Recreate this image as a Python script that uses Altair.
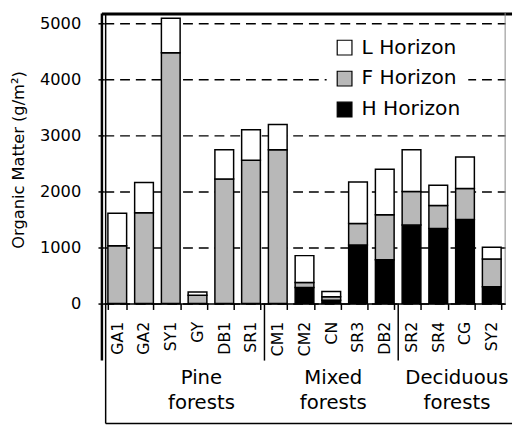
import altair as alt
import pandas as pd

categories = ["GA1", "GA2", "SY1", "GY", "DB1", "SR1", "CM1", "CM2", "CN",
              "SR3", "DB2", "SR2", "SR4", "CG", "SY2"]
h_values = [0, 0, 0, 0, 0, 0, 0, 285, 60, 1045, 780, 1400, 1340, 1500, 300]
f_values = [1030, 1620, 4475, 150, 2220, 2555, 2745, 90, 60, 382, 805, 600, 410, 553, 494]
l_values = [580, 540, 615, 57, 525, 545, 450, 480, 95, 743, 809, 745, 362, 562, 211]
horizons = ["L Horizon", "F Horizon", "H Horizon"]
horizon_colors = ["white", "#b8b8b8", "black"]
y_ticks = [0, 1000, 2000, 3000, 4000, 5000]
group_labels = ["Pine\nforests", "Mixed\nforests", "Deciduous\nforests"]
group_anchor = ["GY", "CN", "SR4"]
group_starts = ["CM1", "SR2"]

FONT = "DejaVu Sans"
W, H = 408, 295

rows = []
for i, c in enumerate(categories):
    for hz, vals, o in [("H Horizon", h_values, 0), ("F Horizon", f_values, 1), ("L Horizon", l_values, 2)]:
        rows.append({"site": c, "horizon": hz, "value": vals[i], "ord": o})
df = pd.DataFrame(rows)

xscale = alt.Scale(domain=categories, paddingInner=0.3, paddingOuter=0.15)
yscale = alt.Scale(domain=[0, 5175], nice=False)

bars = alt.Chart(df).mark_bar(stroke="black", strokeWidth=1.5).encode(
    x=alt.X("site:N", scale=xscale, sort=categories,
            axis=alt.Axis(title=None, labelAngle=-90, labelFontSize=16, labelPadding=12,
                          labelColor="black", tickBand="extent", tickSize=6, tickWidth=1.5,
                          tickColor="black", domainColor="black", domainWidth=1.5)),
    y=alt.Y("value:Q", scale=yscale, stack="zero",
            axis=alt.Axis(values=y_ticks, format="d", grid=True, gridDash=[10, 6],
                          gridColor="black", gridWidth=1.5, domain=False, tickColor="black",
                          tickSize=6, tickWidth=1.5, labelFontSize=16.5, labelColor="black",
                          labelPadding=17.5, title="Organic Matter (g/m²)",
                          titleFontSize=16.5, titleFontWeight="normal", titleColor="black",
                          titleX=-86.5, titleY=148.5, titleAngle=-90, titleBaseline="middle")),
    fill=alt.Color("horizon:N", scale=alt.Scale(domain=horizons, range=horizon_colors),
                   legend=alt.Legend(title=None, orient="none", legendX=226.5, legendY=16.5,
                                     fillColor="white", padding=8, symbolType="square",
                                     symbolSize=225, symbolStrokeColor="black",
                                     symbolStrokeWidth=1.2, symbolOpacity=1,
                                     labelFontSize=20.5, labelOffset=7, rowPadding=10.5,
                                     labelColor="black")),
    order=alt.Order("ord:Q", sort="ascending"),
)

layers = [bars]

# group separators
sep = alt.Chart(pd.DataFrame({"site": group_starts})).mark_rule(
    color="black", strokeWidth=1.5, xOffset=-4).encode(
    x=alt.X("site:N", scale=xscale, bandPosition=0),
    y=alt.value(H), y2=alt.value(353))
layers.append(sep)

# group labels
dxs = [4, 2, 19]
for lab, anc, dx in zip(group_labels, group_anchor, dxs):
    t = alt.Chart(pd.DataFrame({"site": [anc], "label": [lab]})).mark_text(
        lineBreak="\n", lineHeight=25, baseline="alphabetic", align="center",
        fontSize=20, font=FONT, color="black", dx=dx).encode(
        x=alt.X("site:N", scale=xscale), y=alt.value(377), text="label:N")
    layers.append(t)

one = alt.Data(values=[{}])
def rule(x, y, x2=None, y2=None, w=1.5, color="black"):
    enc = {"x": alt.value(x), "y": alt.value(y)}
    if x2 is not None:
        enc["x2"] = alt.value(x2)
    if y2 is not None:
        enc["y2"] = alt.value(y2)
    return alt.Chart(one).mark_rule(color=color, strokeWidth=w).encode(**enc)

layers += [
    rule(-2, 0.5, x2=415, w=3),
    rule(-2, 0, y2=353, w=2.5),
    rule(1.8, 0, y2=417, w=1.5),
    rule(1.8, 417, x2=415, w=1.5),
    rule(W, -1, y2=H, w=1, color="#888888"),
]

chart = alt.layer(*layers).properties(
    width=W, height=H, autosize=alt.AutoSizeParams(type="none"),
    padding={"left": 97.5, "top": 2, "right": 8, "bottom": 123},
).configure(font=FONT).configure_view(strokeWidth=0)

chart.save("out.html", embed_options={"renderer": "svg", "actions": False})
